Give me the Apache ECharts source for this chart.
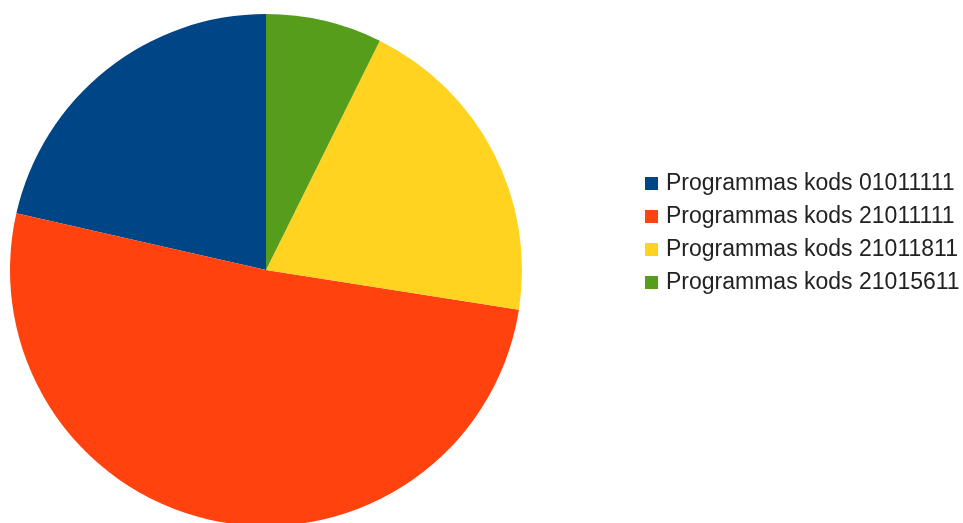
<!DOCTYPE html>
<html>
<head>
<meta charset="utf-8">
<script src="https://cdn.jsdelivr.net/npm/echarts@6/dist/echarts.min.js"></script>
<style>html,body{margin:0;padding:0;background:#fff}#c{width:963px;height:523px}</style>
</head>
<body>
<div id="c"></div>
<script>
const categories = ['Programmas kods 01011111', 'Programmas kods 21011111', 'Programmas kods 21011811', 'Programmas kods 21015611'];
const values = [21.45, 51.07, 20.16, 7.33];
const colors = ['#004586', '#ff420e', '#ffd320', '#579d1c'];

const chart = echarts.init(document.getElementById('c'));
chart.setOption({
  animation: false,
  color: colors,
  legend: {
    orient: 'vertical',
    left: 640,
    top: 167,
    itemWidth: 13,
    itemHeight: 13,
    itemGap: 10,
    icon: 'rect',
    textStyle: { fontFamily: 'Liberation Sans', fontSize: 23, color: '#222', lineHeight: 23, padding: [0,0,0,3] },
    data: categories
  },
  series: [{
    type: 'pie',
    center: [266, 270],
    radius: 256,
    startAngle: 90,
    clockwise: false,
    label: { show: false },
    labelLine: { show: false },
    emphasis: { scale: false },
    itemStyle: { borderWidth: 0 },
    data: categories.map((n, i) => ({ name: n, value: values[i] }))
  }]
});
</script>
</body>
</html>
